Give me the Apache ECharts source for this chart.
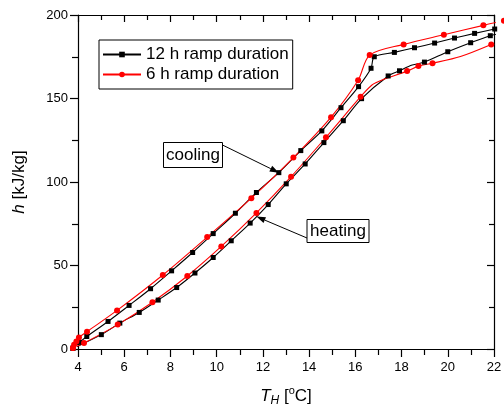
<!DOCTYPE html>
<html><head><meta charset="utf-8">
<script src="https://cdn.jsdelivr.net/npm/echarts@6/dist/echarts.min.js"></script>
<style>html,body{margin:0;padding:0;background:#fff}#c{width:504px;height:407px}</style>
</head><body><div id="c"></div>
<script>
// ---- data (T_H in degC, h in kJ/kg) ----
const seriesNames = ['12 h ramp duration', '6 h ramp duration'];
const xTicks = [4, 6, 8, 10, 12, 14, 16, 18, 20, 22];
const yTicks = [0, 50, 100, 150, 200];

// 12 h ramp, cooling branch (upper)
const cool12 = [[3.78,0.6],[4.07,4.0],[4.38,7.5],[5.30,16.5],[6.21,26.1],[7.14,36.1],[8.05,46.8],[8.96,57.8],[9.85,69.1],[10.81,81.3],[11.72,93.7],[12.69,105.6],[13.64,118.8],[14.55,130.6],[15.38,144.5],[16.14,157.1],[16.68,168.1],[16.82,175.0],[17.69,177.6],[18.56,180.4],[19.43,183.2],[20.29,186.2],[21.16,189.0],[22.03,191.6]];
// 12 h ramp, heating branch (lower)
const heat12 = [[3.78,0.3],[5.01,8.6],[5.81,15.5],[6.65,21.9],[7.47,29.3],[8.27,36.8],[9.06,45.5],[9.85,54.8],[10.63,64.8],[11.45,75.4],[12.23,86.5],[13.01,98.9],[13.83,110.8],[14.64,123.6],[15.48,136.7],[16.27,149.9],[17.42,163.5],[17.91,166.6],[18.99,171.8],[20.00,178.0],[20.99,183.4],[21.84,187.6]];
const heat12Curve = [[18.46,170.0],[22.47,189.6]];   // unmarked line points
// 6 h ramp, cooling branch (upper)
const cool6 = [[3.78,0.6],[3.83,2.6],[3.93,4.5],[4.04,6.9],[4.39,10.4],[5.69,23.1],[7.67,44.3],[9.59,67.0],[11.50,90.3],[13.32,114.6],[14.95,138.8],[16.12,160.9],[16.62,176.0],[18.09,182.4],[19.83,188.2],[21.54,193.8],[22.43,196.5]];
// 6 h ramp, heating branch (lower)
const heat6 = [[3.78,0.6],[4.26,3.6],[5.72,14.6],[7.22,28.0],[8.73,43.7],[10.20,61.4],[11.72,81.5],[13.22,103.2],[14.73,126.8],[16.23,151.1],[18.24,166.4],[18.73,169.4],[19.34,171.1],[21.88,182.4]];
const heat6Curve = [[16.72,158.1],[17.16,161.1],[20.55,175.2]];

const FONT = 'Liberation Sans, Arial, sans-serif';

function build(marked, curve) {
  const items = marked.map(p => ({ value: p }));
  (curve || []).forEach(p => items.push({ value: p, symbol: 'none' }));
  items.sort((a, b) => a.value[0] - b.value[0]);
  return items;
}

const chart = echarts.init(document.getElementById('c'), null, { renderer: 'canvas' });

const baseSeries = (name, color, symbol, size, data) => ({
  name, type: 'line', data, xAxisIndex: 0, yAxisIndex: 0,
  clip: false, smooth: 0.3,
  symbol, symbolSize: size, showAllSymbol: true,
  lineStyle: { color, width: 1.1 },
  itemStyle: { color, borderWidth: 0 },
  emphasis: { disabled: true }, animation: false
});

const tickStyle = { color: '#000', width: 1.2, opacity: 1 };
const axisCommon = {
  type: 'value',
  axisLine: { show: true, onZero: false, lineStyle: { color: '#000', width: 1.2 } },
  splitLine: { show: false },
  minorSplitLine: { show: false }
};

chart.setOption({
  animation: false,
  textStyle: { fontFamily: FONT },
  grid: { left: 78, top: 15, right: 10, bottom: 58, containLabel: false, outerBoundsMode: 'none' },
  legend: {
    data: seriesNames,
    left: 99, top: 40, orient: 'vertical',
    padding: [6, 4, 6, 3], itemGap: 3,
    itemWidth: 38, itemHeight: 7,
    borderColor: '#000', borderWidth: 1,
    textStyle: { fontSize: 17, color: '#000', fontFamily: FONT },
    selectedMode: false
  },
  xAxis: [
    Object.assign({}, axisCommon, {
      position: 'bottom', min: xTicks[0], max: xTicks[xTicks.length - 1], interval: 2,
      axisTick: { show: true, inside: false, length: 8, lineStyle: tickStyle },
      minorTick: { show: true, splitNumber: 2, length: 6, lineStyle: tickStyle },
      axisLabel: { color: '#000', fontSize: 13, margin: 12, fontFamily: FONT },
      name: '{i|T}{sub|H}{n| [}{sup|o}{n|C]}',
      nameLocation: 'middle', nameGap: 36,
      nameTextStyle: {
        rich: {
          i: { fontStyle: 'italic', fontSize: 17, color: '#000', fontFamily: FONT, verticalAlign: 'middle', lineHeight: 22 },
          sub: { fontStyle: 'italic', fontSize: 12, color: '#000', fontFamily: FONT, verticalAlign: 'bottom', lineHeight: 22, padding: [8, 0, 0, 0] },
          n: { fontSize: 17, color: '#000', fontFamily: FONT, verticalAlign: 'middle', lineHeight: 22 },
          sup: { fontSize: 11, color: '#000', fontFamily: FONT, verticalAlign: 'top', lineHeight: 22, padding: [0, 0, 8, 0] }
        }
      }
    }),
    Object.assign({}, axisCommon, {
      position: 'top', min: xTicks[0], max: xTicks[xTicks.length - 1], interval: 2,
      axisTick: { show: true, inside: true, length: 7, lineStyle: tickStyle },
      minorTick: { show: true, splitNumber: 2, length: 5, lineStyle: tickStyle },
      axisLabel: { show: false }
    })
  ],
  yAxis: [
    Object.assign({}, axisCommon, {
      position: 'left', min: yTicks[0], max: yTicks[yTicks.length - 1], interval: 50,
      axisTick: { show: true, inside: false, length: 8, lineStyle: tickStyle },
      minorTick: { show: true, splitNumber: 2, length: 6, lineStyle: tickStyle },
      axisLabel: { color: '#000', fontSize: 13, margin: 10, fontFamily: FONT },
      name: '{i|h}{n| [kJ/kg]}',
      nameLocation: 'middle', nameRotate: 90, nameGap: 50,
      nameTextStyle: {
        rich: {
          i: { fontStyle: 'italic', fontSize: 17, color: '#000', fontFamily: FONT },
          n: { fontSize: 17, color: '#000', fontFamily: FONT }
        }
      }
    }),
    Object.assign({}, axisCommon, {
      position: 'right', min: yTicks[0], max: yTicks[yTicks.length - 1], interval: 50,
      axisTick: { show: true, inside: true, length: 7, lineStyle: tickStyle },
      minorTick: { show: true, splitNumber: 2, length: 5, lineStyle: tickStyle },
      axisLabel: { show: false }
    })
  ],
  series: [
    baseSeries(seriesNames[0], '#000000', 'rect', 5, build(heat12, heat12Curve)),
    baseSeries(seriesNames[0], '#000000', 'rect', 5, build(cool12)),
    baseSeries(seriesNames[1], '#ff0000', 'circle', 6, build(heat6, heat6Curve)),
    baseSeries(seriesNames[1], '#ff0000', 'circle', 6, build(cool6))
  ]
});

// ---- annotations: boxed labels with arrows pointing at the data ----
function arrow(x1, y1, x2, y2) {
  const ang = Math.atan2(y2 - y1, x2 - x1);
  const L = 9, W = 3.2;
  const bx = x2 - L * Math.cos(ang), by = y2 - L * Math.sin(ang);
  const px = -Math.sin(ang) * W, py = Math.cos(ang) * W;
  return [
    { type: 'line', shape: { x1, y1, x2: bx, y2: by }, style: { stroke: '#000', lineWidth: 1 }, z: 100 },
    { type: 'polygon', shape: { points: [[x2, y2], [bx + px, by + py], [bx - px, by - py]] }, style: { fill: '#000' }, z: 100 }
  ];
}
function box(x, y, w, h, text) {
  return [
    { type: 'rect', shape: { x, y, width: w, height: h }, style: { fill: '#fff', stroke: '#000', lineWidth: 1 }, z: 100 },
    { type: 'text', x: x + w / 2, y: y + h / 2, style: { text, font: '17px ' + FONT, fill: '#000', align: 'center', verticalAlign: 'middle' }, z: 101 }
  ];
}
const coolTip = chart.convertToPixel({ xAxisIndex: 0, yAxisIndex: 0 }, cool12[11]);
const hA = heat12[9], hB = heat12[10], f = 0.35;
const heatTip = chart.convertToPixel({ xAxisIndex: 0, yAxisIndex: 0 }, [hA[0] + f * (hB[0] - hA[0]), hA[1] + f * (hB[1] - hA[1])]);
const g = [].concat(
  box(163.5, 142.5, 59, 25, 'cooling'),
  arrow(222.5, 145, coolTip[0], coolTip[1]),
  box(307, 219.5, 62, 23, 'heating'),
  arrow(307, 238, heatTip[0], heatTip[1])
);
chart.setOption({ graphic: g });
</script></body></html>
